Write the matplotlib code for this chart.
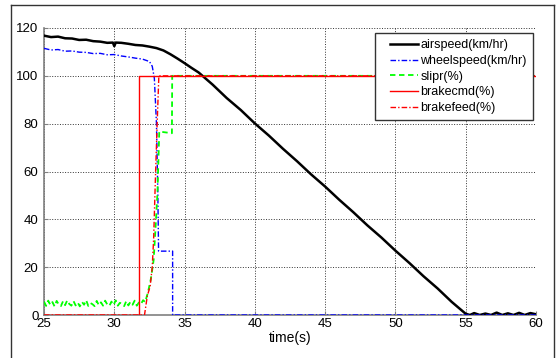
import matplotlib
matplotlib.use("Agg")
import matplotlib.pyplot as plt
from matplotlib.lines import Line2D
from matplotlib.legend_handler import HandlerLine2D

plt.rcParams['font.family'] = ['Liberation Sans', 'DejaVu Sans']

# airspeed(km/hr) - values
air_t = [25.0, 25.5, 26.0, 26.5, 27.0, 27.5, 28.0, 28.5, 29.0, 29.5, 29.9, 30.0,
         30.1, 30.5, 31.0, 31.5, 32.0, 32.5, 33.0, 33.5, 34.0, 34.5, 35.0, 35.5, 36.0,
         37.0, 38.0, 39.0, 40.0, 41.0, 42.0, 43.0, 44.0, 45.0, 46.0, 47.0, 48.0,
         49.0, 50.0, 51.0, 52.0, 53.0, 54.0, 54.5, 55.0, 55.3, 55.6, 56.0, 56.4,
         56.8, 57.2, 57.6, 58.0, 58.4, 58.8, 59.2, 59.6, 60.0]
air_v = [116.8, 116.2, 116.4, 115.7, 115.6, 115.0, 115.1, 114.5, 114.3, 113.8, 113.9, 112.4,
         113.9, 113.8, 113.4, 112.9, 112.7, 112.2, 111.6, 110.6, 109.0, 107.2, 105.3, 103.3, 101.4,
         96.3, 90.7, 85.7, 80.1, 75.0, 69.5, 64.3, 58.8, 53.7, 48.2, 43.0, 37.5,
         32.4, 26.9, 21.7, 16.2, 11.1, 5.5, 3.0, 0.5, 0.0, 0.8, 0.0, 0.6,
         0.0, 1.0, 0.0, 0.7, 0.0, 0.9, 0.0, 0.8, 0.3]

# wheelspeed(km/hr)
wheel_t = [25.0, 25.5, 26.0, 26.5, 27.0, 27.5, 28.0, 28.5, 29.0, 29.5, 30.0, 30.5,
           31.0, 31.5, 32.0, 32.5, 32.7, 32.85, 33.0, 33.1, 33.15, 34.15, 34.15, 60.0]
wheel_v = [111.5, 110.8, 111.0, 110.3, 110.4, 109.9, 109.8, 109.3, 109.4, 108.8, 108.9, 108.3,
           107.9, 107.4, 107.0, 106.0, 104.0, 99.0, 80.0, 50.0, 26.7, 26.7, 0.0, 0.0]

# slipr(%)
slip_t = [25.0, 25.15, 25.3, 25.45, 25.6, 25.75, 25.9, 26.05, 26.2, 26.35, 26.5, 26.65,
          26.8, 26.95, 27.1, 27.25, 27.4, 27.55, 27.7, 27.85, 28.0, 28.15, 28.3, 28.45,
          28.6, 28.75, 28.9, 29.05, 29.2, 29.35, 29.5, 29.65, 29.8, 29.95, 30.1, 30.25,
          30.4, 30.55, 30.7, 30.85, 31.0, 31.15, 31.3, 31.45, 31.6, 31.75, 31.9, 32.05,
          32.2, 32.4, 32.6, 32.8, 32.95, 33.07, 33.2, 34.1, 34.12, 60.0]
slip_v = [5.6, 3.8, 6.0, 4.2, 5.4, 3.6, 5.9, 4.4, 3.7, 5.7, 4.1, 6.1,
          4.6, 3.9, 5.8, 4.0, 5.2, 3.6, 5.5, 4.3, 6.2, 3.8, 5.0, 4.5,
          3.7, 5.9, 4.1, 5.3, 3.9, 6.0, 4.4, 3.8, 5.6, 4.2, 6.1, 3.9,
          5.1, 4.6, 3.7, 5.8, 4.0, 5.5, 4.3, 6.0, 3.9, 5.2, 4.6, 6.2,
          5.4, 9.6, 15.0, 23.0, 38.0, 51.0, 76.7, 76.0, 100.0, 100.0]

# brakecmd(%)
cmd_t = [25.0, 31.75, 31.75, 60.0]
cmd_v = [0.0, 0.0, 100.0, 100.0]

# brakefeed(%)
feed_t = [25.0, 32.15, 32.35, 32.55, 32.7, 32.8, 32.93, 33.05, 33.17, 60.0]
feed_v = [0.0, 0.0, 8.0, 12.0, 20.0, 32.0, 58.0, 80.0, 100.0, 100.0]

fig = plt.figure(figsize=(5.57, 3.58), dpi=100)
ax = fig.add_axes([44 / 557, 1 - 315 / 358, 492 / 557, 287 / 358])

dashdot = (0, (4, 1.5, 1, 1.5))
ax.plot(air_t, air_v, color='k', lw=1.8, label='airspeed(km/hr)')
ax.plot(wheel_t, wheel_v, color='#0000ff', lw=1.0, ls=dashdot, label='wheelspeed(km/hr)')
ax.plot(slip_t, slip_v, color='#00ff00', lw=1.3, ls=(0, (3, 2)), label='slipr(%)')
ax.plot(cmd_t, cmd_v, color='#ff0000', lw=1.0, label='brakecmd(%)')
ax.plot(feed_t, feed_v, color='#ff0000', lw=1.0, ls=dashdot, label='brakefeed(%)')

ax.set_xlim(25, 60)
ax.set_ylim(0, 120)
ax.set_xticks(range(25, 61, 5))
ax.set_yticks(range(0, 121, 20))
ax.grid(True, ls=':', color='#333333', lw=0.7)
ax.set_axisbelow(True)
for s in ('top', 'right'):
    ax.spines[s].set_visible(False)
for s in ('left', 'bottom'):
    ax.spines[s].set_color('#808080')
    ax.spines[s].set_linewidth(1.2)
    ax.spines[s].set_zorder(1)
ax.tick_params(direction='in', length=3, color='#808080', labelsize=9.5)
ax.tick_params(axis='y', pad=4)
ax.tick_params(axis='x', pad=2)
ax.set_xlabel('time(s)', fontsize=10, labelpad=1)

# line sample shifted to the right inside the handle box, like the original legend
hmap = {ln: HandlerLine2D(xpad=0.72) for ln in ax.get_lines()}
leg = ax.legend(loc='upper right', bbox_to_anchor=(0.994, 0.983), borderaxespad=0,
                fontsize=9, fancybox=False, framealpha=1, edgecolor='#333333',
                handlelength=2.96, handletextpad=0.2, labelspacing=0.3, borderpad=0.5,
                handler_map=hmap)
leg.get_frame().set_linewidth(1.0)

# outer frame around the figure
fc = '#333333'
fig.add_artist(Line2D([11 / 557, 11 / 557], [0, 1 - 5 / 358], transform=fig.transFigure, color=fc, lw=1))
fig.add_artist(Line2D([11 / 557, 554 / 557], [1 - 5 / 358, 1 - 5 / 358], transform=fig.transFigure, color=fc, lw=1))
fig.add_artist(Line2D([554 / 557, 554 / 557], [0, 1 - 5 / 358], transform=fig.transFigure, color=fc, lw=1))

fig.savefig('out.png', dpi=100)
